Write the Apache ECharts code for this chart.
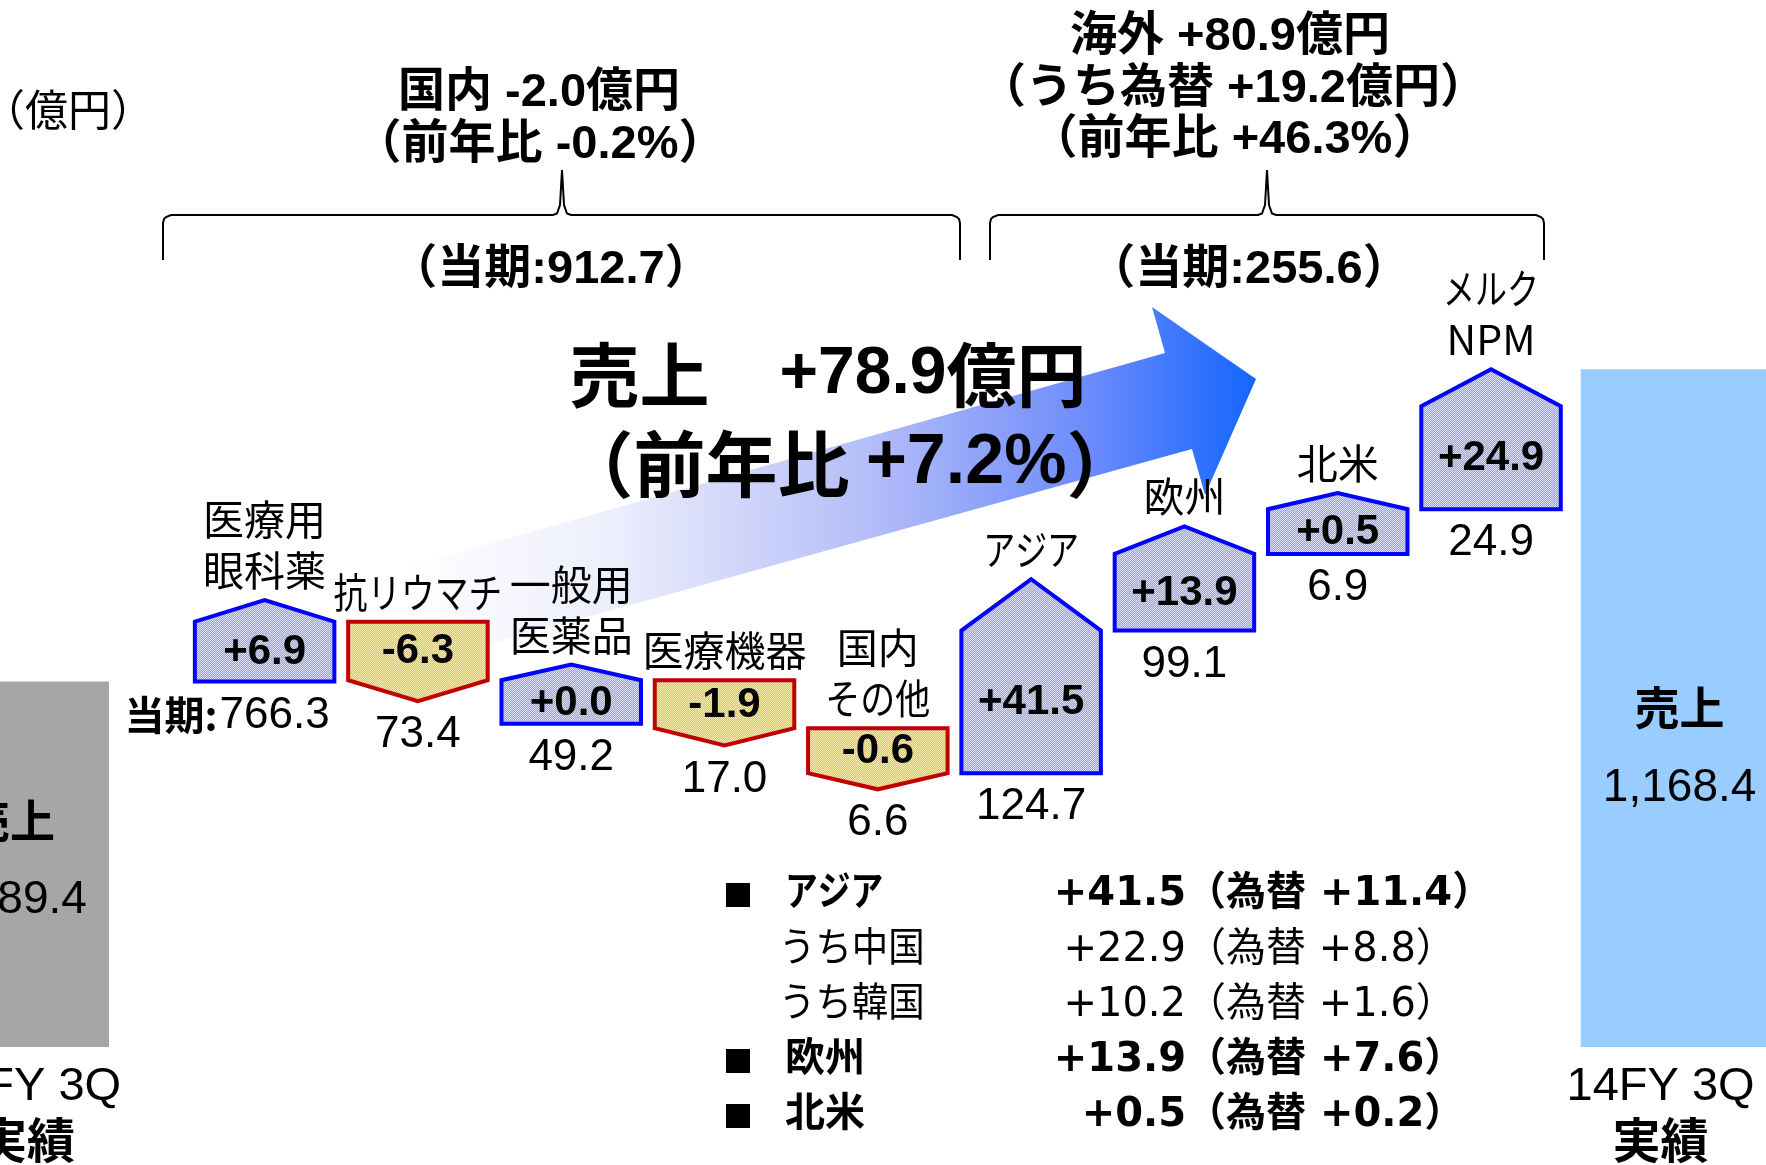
<!DOCTYPE html>
<html><head><meta charset="utf-8">
<script src="https://cdn.jsdelivr.net/npm/echarts@6/dist/echarts.min.js"></script>
<style>html,body{margin:0;padding:0;background:#fff}#c{width:1766px;height:1165px}</style>
</head><body><div id="c"></div>
<script>
// ---- data ----
const categories = ['医療用\n眼科薬', '抗リウマチ', '一般用\n医薬品', '医療機器', '国内\nその他', 'アジア', '欧州', '北米', 'メルク\nNPM'];
const changes = [6.9, -6.3, 0.0, -1.9, -0.6, 41.5, 13.9, 0.5, 24.9];
const currentSales = [766.3, 73.4, 49.2, 17.0, 6.6, 124.7, 99.1, 6.9, 24.9];
const currentPrefix = ['当期:', '', '', '', '', '', '', '', ''];
const totalNames = ['13FY 3Q', '14FY 3Q'];
const totalSales = [1089.4, 1168.4];
const groupNames = ['国内', '海外'];
const groupChange = [-2.0, 80.9];
const groupYoY = [-0.2, 46.3];
const groupCurrent = [912.7, 255.6];
const overseasFx = 19.2;
const salesChange = 78.9;
const salesYoY = 7.2;
const noteNames = ['アジア', 'うち中国', 'うち韓国', '欧州', '北米'];
const noteValues = [41.5, 22.9, 10.2, 13.9, 0.5];
const noteFx = [11.4, 8.8, 1.6, 7.6, 0.2];
const noteMajor = [true, false, false, true, true];

// ---- style constants ----
const JP = '"Noto Sans CJK JP", sans-serif';
const LAT = '"Liberation Sans", Arial, "Noto Sans CJK JP", sans-serif';
const MEI = '"DejaVu Sans", "Noto Sans CJK JP", sans-serif';
const Y_MIN = 997, Y_MAX = 1260;
const MIN_BODY = 11;      // minimum drawn body of a change box (axis units)
const TIP_R = 0.36;       // arrow tip size relative to body
const BOX_W = 0.91;
const TOTAL_W = 1.29, TOTAL_SHIFT = [-0.66, 0.23], TOTAL_NAME_POS = [0.38, 0.5], LABEL_SHIFT = [17, -19];
const TOTAL_COLORS = ['#a6a6a6', '#99ccff'];

const fmt = v => (v >= 0 ? '+' : '') + v.toFixed(1);
const fmtTotal = v => v.toLocaleString('en-US', {minimumFractionDigits: 1, maximumFractionDigits: 1});
// narrower kana (proportional) like the original font
function kanaScale(s, f) {
  const n = s.length; if (!n) return 1;
  let kana = 0, cjk = 0;
  for (const ch of s) { if (/[\u3040-\u30ff]/.test(ch)) kana++; else if (/[\u3400-\u9fff]/.test(ch)) cjk++; }
  if (kana + cjk < n) return 1;
  return (cjk + f * kana) / n;
}

function makePattern(c1, c2) {
  const cv = document.createElement('canvas'); cv.width = 4; cv.height = 4;
  const g = cv.getContext('2d'); g.fillStyle = c1; g.fillRect(0, 0, 4, 4);
  g.fillStyle = c2;
  for (let y = 0; y < 4; y++) for (let x = 0; x < 4; x++) if ((x + y) % 2 === 0) g.fillRect(x, y, 1, 1);
  return cv;
}
const posPattern = {image: makePattern('#9c9cee', '#dcdcf8'), repeat: 'repeat'};
const negPattern = {image: makePattern('#ffc000', '#fff0b0'), repeat: 'repeat'};

function txt(x, y, text, size, weight, family, align, valign, extra) {
  return {type: 'text', x: x, y: y, z2: 10, style: Object.assign({
    text: text, fill: '#000', fontSize: size, fontWeight: weight, fontFamily: family,
    align: align, verticalAlign: valign, textAlign: align, textVerticalAlign: valign
  }, extra || {})};
}

// ---- waterfall levels: boxes get a minimum body, chained body to body,
//      sized so the last tip lands on the closing total; a zero change hangs under the level ----
const net = totalSales[1] - totalSales[0];
const sgn = v => (v > 0 ? 1 : v < 0 ? -1 : 0);
const sumSign = changes.reduce((a, v) => a + sgn(v), 0);
const sumV = changes.reduce((a, v) => a + v, 0);
const last = changes[changes.length - 1];
const d = (net - MIN_BODY * (sumSign + sgn(last) * TIP_R)) / (sumV + sgn(last) * TIP_R * Math.abs(last));
let level = totalSales[0];
const boxes = changes.map((v, i) => {
  const body = MIN_BODY + d * Math.abs(v), tip = body * TIP_R;
  let lo, hi;   // extent incl. tip
  if (v > 0) { lo = level; hi = level + body + tip; level += body; }
  else if (v < 0) { hi = level; lo = level - body - tip; level -= body; }
  else { lo = level - body; hi = level + tip; }
  return [i + 1, lo, hi, v, currentSales[i]];
});

const chart = echarts.init(document.getElementById('c'), null, {renderer: 'canvas'});

const graphics = [];
// arrow
graphics.push({
  type: 'polygon', z: 1,
  shape: {points: [[400, 569], [1165, 353], [1152, 307], [1256, 379], [1205, 495], [1192, 449], [400, 669]]},
  style: {fill: {type: 'linear', x: 400, y: 0, x2: 1256, y2: 0, global: true, colorStops: [
    {offset: 0, color: 'rgba(255,255,255,1)'}, {offset: 0.25, color: '#eceefc'},
    {offset: 0.55, color: '#b3bdf7'}, {offset: 0.8, color: '#6e8cfb'}, {offset: 1, color: '#1466ff'}]}}
});
// brackets
function bracket(x0, xm, x1) {
  return {type: 'polyline', z: 5, shape: {points: [
    [x0, 260], [x0, 223], [x0 + 1, 219], [x0 + 3, 217], [x0 + 8, 215], [xm - 9, 215], [xm - 5, 213.5], [xm - 2, 205], [xm, 170],
    [xm + 2, 205], [xm + 5, 213.5], [xm + 9, 215], [x1 - 8, 215], [x1 - 3, 217], [x1 - 1, 219], [x1, 223], [x1, 260]]},
    style: {fill: null, stroke: '#000', lineWidth: 2}};
}
graphics.push(bracket(163, 562, 960));
graphics.push(bracket(990, 1267, 1544));

function gtext(x, y, text, size, weight, family, align, valign, extra) {
  const t = txt(x, y, text, size, weight, family, align, valign, extra);
  delete t.z2; t.z = 20; return t;
}
graphics.push(gtext(-18, 110, '（億円）', 43, 'normal', JP, 'left', 'middle'));
graphics.push(gtext(539, 93, groupNames[0] + ' ' + groupChange[0].toFixed(1) + '億円', 47, 'bold', LAT, 'center', 'middle'));
graphics.push(gtext(540, 145, '（前年比 ' + fmt(groupYoY[0]) + '%）', 47, 'bold', LAT, 'center', 'middle'));
graphics.push(gtext(551, 270, '（当期:' + groupCurrent[0].toFixed(1) + '）', 47, 'bold', LAT, 'center', 'middle'));
graphics.push(gtext(1230, 37, groupNames[1] + ' ' + fmt(groupChange[1]) + '億円', 47, 'bold', LAT, 'center', 'middle'));
graphics.push(gtext(1233, 89, '（うち為替 ' + fmt(overseasFx) + '億円）', 47, 'bold', LAT, 'center', 'middle'));
graphics.push(gtext(1235, 140, '（前年比 ' + fmt(groupYoY[1]) + '%）', 47, 'bold', LAT, 'center', 'middle'));
graphics.push(gtext(1249, 270, '（当期:' + groupCurrent[1].toFixed(1) + '）', 47, 'bold', LAT, 'center', 'middle'));
// big headline
graphics.push(gtext(828, 375, '{a|売上　}{n|' + fmt(salesChange) + '}{a|億円}', 70, 'bold', LAT, 'center', 'middle', {
  rich: {a: {fontSize: 70, fontWeight: 'bold', fontFamily: JP, fill: '#000'},
         n: {fontSize: 66, fontWeight: 'bold', fontFamily: LAT, fill: '#000'}}}));
graphics.push(gtext(850, 464, '{a|（前年比 }{n|' + fmt(salesYoY) + '%}{a|）}', 70, 'bold', LAT, 'center', 'middle', {
  rich: {a: {fontSize: 72, fontWeight: 'bold', fontFamily: JP, fill: '#000'},
         n: {fontSize: 70, fontWeight: 'bold', fontFamily: LAT, fill: '#000'}}}));
// notes
noteNames.forEach((n, i) => {
  const y = 895 + i * 55.25;
  const w = noteMajor[i] ? 'bold' : 'normal';
  if (noteMajor[i]) graphics.push(gtext(738, y, '■', 30, 'normal', JP, 'center', 'middle'));
  const nt = gtext(noteMajor[i] ? 785 : 779, y, n, 40, w, MEI, 'left', 'middle');
  nt.scaleX = kanaScale(n, 0.82);
  graphics.push(nt);
  graphics.push(gtext(1186, y, fmt(noteValues[i]), 40, w, MEI, 'right', 'middle'));
  graphics.push(gtext(1186, y, '（為替 ' + fmt(noteFx[i]) + '）', 40, w, MEI, 'left', 'middle'));
});

const option = {
  animation: false,
  backgroundColor: '#ffffff',
  grid: {left: 34.65, right: 45, top: 7, bottom: 118},
  xAxis: {type: 'category', data: [totalNames[0]].concat(categories, [totalNames[1]]), show: false},
  yAxis: {type: 'value', min: Y_MIN, max: Y_MAX, show: false},
  graphic: graphics,
  series: [
    {
      type: 'custom', name: 'totals', z: 2, clip: false,
      encode: {x: 0, y: 1},
      data: [[0, totalSales[0]], [categories.length + 1, totalSales[1]]],
      renderItem: function (params, api) {
        const i = params.dataIndex, idx = api.value(0), val = api.value(1);
        const band = api.size([1, 0])[0];
        const pb = api.coord([idx, Y_MIN]), pt = api.coord([idx, val]);
        const xc = pb[0] + TOTAL_SHIFT[i] * band, w = band * TOTAL_W;
        const h = pb[1] - pt[1];
        const yName = pt[1] + h * TOTAL_NAME_POS[i];
        return {type: 'group', children: [
          {type: 'rect', shape: {x: xc - w / 2, y: pt[1], width: w, height: h}, style: {fill: TOTAL_COLORS[i]}},
          txt(xc, yName, '売上', 45, 'bold', JP, 'center', 'middle'),
          txt(xc, yName + 80, fmtTotal(val), 46, 'normal', LAT, 'center', 'middle'),
          txt(xc + LABEL_SHIFT[i], pb[1] + 40, totalNames[i], 47, 'normal', LAT, 'center', 'middle'),
          txt(xc + LABEL_SHIFT[i], pb[1] + 93, '実績', 48, 'bold', JP, 'center', 'middle')
        ]};
      }
    },
    {
      type: 'custom', name: 'changes', z: 3, clip: false,
      encode: {x: 0, y: [1, 2]},
      data: boxes,
      renderItem: function (params, api) {
        const i = params.dataIndex;
        const idx = api.value(0), lo = api.value(1), hi = api.value(2), v = api.value(3), cur = api.value(4);
        const band = api.size([1, 0])[0];
        const pLo = api.coord([idx, lo]), pHi = api.coord([idx, hi]);
        const xc = pLo[0], hw = band * BOX_W / 2;
        const yLo = pLo[1], yHi = pHi[1];
        const tip = (yLo - yHi) * TIP_R / (1 + TIP_R);
        const pos = v >= 0;
        const pts = pos
          ? [[xc - hw, yLo], [xc + hw, yLo], [xc + hw, yHi + tip], [xc, yHi], [xc - hw, yHi + tip]]
          : [[xc - hw, yHi], [xc + hw, yHi], [xc + hw, yLo - tip], [xc, yLo], [xc - hw, yLo - tip]];
        const bodyMid = pos ? (yLo + yHi + tip) / 2 : (yHi + yLo - tip) / 2;
        const children = [
          {type: 'polygon', shape: {points: pts}, style: {fill: pos ? posPattern : negPattern, stroke: pos ? '#0000ff' : '#c00000', lineWidth: 4, lineJoin: 'miter'}},
          txt(xc, bodyMid + 1, fmt(v), 42, 'bold', LAT, 'center', 'middle')
        ];
        const lines = categories[i].split('\n');
        lines.forEach((ln, j) => {
          const t = txt(xc, yHi - 4 - (lines.length - 1 - j) * 51, ln, 41, 'normal', JP, 'center', 'bottom', {lineHeight: 51});
          t.scaleX = kanaScale(ln, 0.78);
          children.push(t);
        });
        if (currentPrefix[i]) {
          children.push(txt(xc - 45, yLo + 12, cur.toFixed(1), 44, 'normal', LAT, 'left', 'top'));
          children.push(txt(xc - 47, yLo + 13, currentPrefix[i], 40, 'bold', JP, 'right', 'top'));
        } else {
          children.push(txt(xc, yLo + 12, cur.toFixed(1), 44, 'normal', LAT, 'center', 'top'));
        }
        return {type: 'group', children: children};
      }
    }
  ]
};
chart.setOption(option);
</script>
</body></html>
